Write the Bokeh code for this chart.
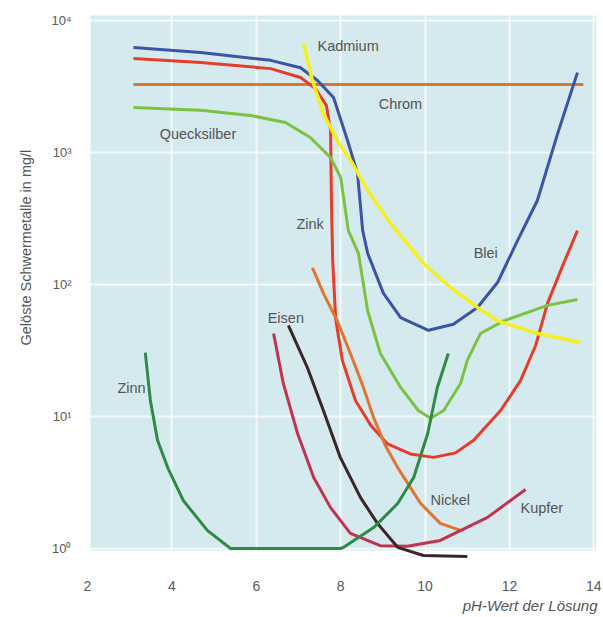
from bokeh.plotting import figure
from bokeh.models import (Range1d, FixedTicker, CustomJSTickFormatter, BoxAnnotation, Label, Title)
from bokeh.embed import file_html
from bokeh.resources import INLINE

# ---- data (pH, dissolved heavy metal in mg/l) ----
blei_ph = [3.09, 4.68, 6.34, 7.05, 7.45, 7.83, 8.16, 8.40, 8.52, 8.64, 9.01, 9.42, 10.08, 10.67, 11.24, 11.72, 12.19, 12.66, 13.14, 13.61]
blei_mg = [6240, 5730, 4990, 4390, 3510, 2610, 1240, 690, 257, 172, 86, 56, 45, 50, 67, 104, 215, 433, 1390, 4030]

zink_ph = [3.09, 4.68, 6.34, 7.05, 7.40, 7.66, 7.76, 7.78, 7.81, 7.88, 8.04, 8.35, 8.71, 9.11, 9.65, 10.20, 10.72, 11.15, 11.79, 12.26, 12.62, 12.90, 13.26, 13.61]
zink_mg = [5160, 4800, 4320, 3700, 3050, 2280, 1470, 433, 152, 55, 26.6, 13.2, 8.6, 6.2, 5.2, 4.9, 5.3, 6.6, 11.1, 18.7, 34.5, 72, 139, 256]

chrom_ph = [3.09, 13.75]
chrom_mg = [3270, 3270]

kadmium_ph = [7.12, 7.33, 7.59, 7.92, 8.28, 8.64, 9.18, 9.96, 10.60, 11.24, 11.72, 12.66, 13.68]
kadmium_mg = [6700, 3510, 1970, 1230, 825, 515, 290, 145, 95, 67, 53, 42.5, 36.3]

quecksilber_ph = [3.09, 4.68, 5.86, 6.69, 7.28, 7.76, 8.00, 8.18, 8.42, 8.64, 8.94, 9.42, 9.84, 10.13, 10.44, 10.84, 11.00, 11.31, 11.86, 12.90, 13.61]
quecksilber_mg = [2190, 2090, 1910, 1690, 1300, 915, 647, 257, 172, 63, 30, 16.6, 11.1, 9.7, 11.1, 17.8, 26.6, 42.5, 53, 69.5, 77]

nickel_ph = [7.33, 7.59, 7.92, 8.23, 8.54, 8.78, 9.06, 9.35, 9.89, 10.36, 10.84]
nickel_mg = [134, 85.6, 53, 30, 16.6, 9.8, 6.0, 4.1, 2.2, 1.55, 1.37]

kupfer_ph = [6.41, 6.64, 6.98, 7.36, 7.76, 8.23, 8.94, 9.58, 10.36, 11.48, 12.38]
kupfer_mg = [42.5, 17.8, 7.4, 3.45, 2.04, 1.30, 1.05, 1.04, 1.15, 1.72, 2.8]

eisen_ph = [6.76, 7.21, 7.59, 7.99, 8.47, 8.87, 9.35, 9.96, 11.0]
eisen_mg = [49, 23.5, 11.1, 4.9, 2.43, 1.55, 1.02, 0.885, 0.87]

zinn_ph = [3.37, 3.49, 3.66, 3.90, 4.27, 4.84, 5.39, 7.99, 8.07, 8.78, 9.35, 9.73, 10.06, 10.29, 10.55]
zinn_mg = [30.5, 13.2, 6.6, 4.1, 2.31, 1.37, 1.0, 1.0, 1.02, 1.44, 2.19, 3.45, 7.4, 16.6, 30]

x_ticks = [2, 4, 6, 8, 10, 12, 14]
y_ticks = [1, 10, 100, 1000, 10000]

label_texts = ["Kadmium", "Chrom", "Quecksilber", "Zink", "Blei", "Eisen", "Zinn", "Nickel", "Kupfer"]
label_ph = [7.45, 8.90, 3.71, 6.95, 11.15, 6.27, 2.71, 10.13, 12.26]
label_mg = [6460, 2350, 1390, 285, 172, 56, 16.3, 2.31, 2.04]

y_title = "Gelöste Schwermetalle in mg/l"
x_title = "pH-Wert der Lösung"

# ---- figure ----
p = figure(width=601, height=617, output_backend="svg", toolbar_location=None,
           y_axis_type="log",
           x_range=Range1d(1.953, 14.085), y_range=Range1d(0.783, 11500),
           min_border_left=85, min_border_right=4, min_border_top=12, min_border_bottom=55)
p.outline_line_color = None
p.background_fill_color = "white"
p.border_fill_color = "white"

panel = BoxAnnotation(left=2.07, right=14.05, bottom=0.966, top=10900,
                      fill_color="#d4eaee", fill_alpha=1.0, line_color=None, level="image")
p.add_layout(panel)

for g in (p.xgrid, p.ygrid):
    g.grid_line_color = "white"
    g.grid_line_width = 2
    g.grid_line_alpha = 0.75
p.xgrid.ticker = FixedTicker(ticks=x_ticks)
p.ygrid.ticker = FixedTicker(ticks=y_ticks)

p.xaxis.ticker = FixedTicker(ticks=x_ticks)
p.yaxis.ticker = FixedTicker(ticks=y_ticks)
p.yaxis.formatter = CustomJSTickFormatter(code="""
const sup = {'0':'\u2070','1':'\u00b9','2':'\u00b2','3':'\u00b3','4':'\u2074'};
const e = Math.round(Math.log10(tick)).toString();
return '10' + e.split('').map(c => sup[c]).join('');
""")
for ax in (p.xaxis, p.yaxis):
    ax.axis_line_color = None
    ax.major_tick_line_color = None
    ax.minor_tick_line_color = None
    ax.major_label_text_color = "#5a5a5a"
    ax.major_label_text_font = "Liberation Sans"
p.xaxis.major_label_text_font_size = "14px"
p.xaxis.major_label_standoff = 12
p.yaxis.major_label_text_font_size = "13px"
p.yaxis.major_label_standoff = 8

lw = 3
p.line(chrom_ph, chrom_mg, line_color="#d9782f", line_width=lw)
p.line(blei_ph, blei_mg, line_color="#3c53a8", line_width=lw, line_join="round")
p.line(zink_ph, zink_mg, line_color="#e53d2a", line_width=lw, line_join="round")
p.line(quecksilber_ph, quecksilber_mg, line_color="#7cc242", line_width=lw, line_join="round")
p.line(nickel_ph, nickel_mg, line_color="#e27432", line_width=lw, line_join="round")
p.line(kupfer_ph, kupfer_mg, line_color="#c2334f", line_width=lw, line_join="round")
p.line(eisen_ph, eisen_mg, line_color="#3b2527", line_width=lw, line_join="round")
p.line(zinn_ph, zinn_mg, line_color="#2f8a47", line_width=lw, line_join="round")
p.line(kadmium_ph, kadmium_mg, line_color="#f6ef1f", line_width=lw + 0.5, line_join="round")

for t, x, y in zip(label_texts, label_ph, label_mg):
    p.add_layout(Label(x=x, y=y, text=t, text_font="Liberation Sans",
                       text_font_size="14.5px", text_color="#555555",
                       text_align="left", text_baseline="middle"))

p.add_layout(Title(text=y_title, align="left", offset=217, standoff=30,
                   text_font="Liberation Sans", text_font_size="14.5px",
                   text_font_style="normal", text_color="#555555"), "left")
p.add_layout(Title(text=x_title, align="right", standoff=3,
                   text_font="Liberation Sans", text_font_size="15px",
                   text_font_style="italic", text_color="#555555"), "below")

open("out.html", "w").write(file_html(p, INLINE))
